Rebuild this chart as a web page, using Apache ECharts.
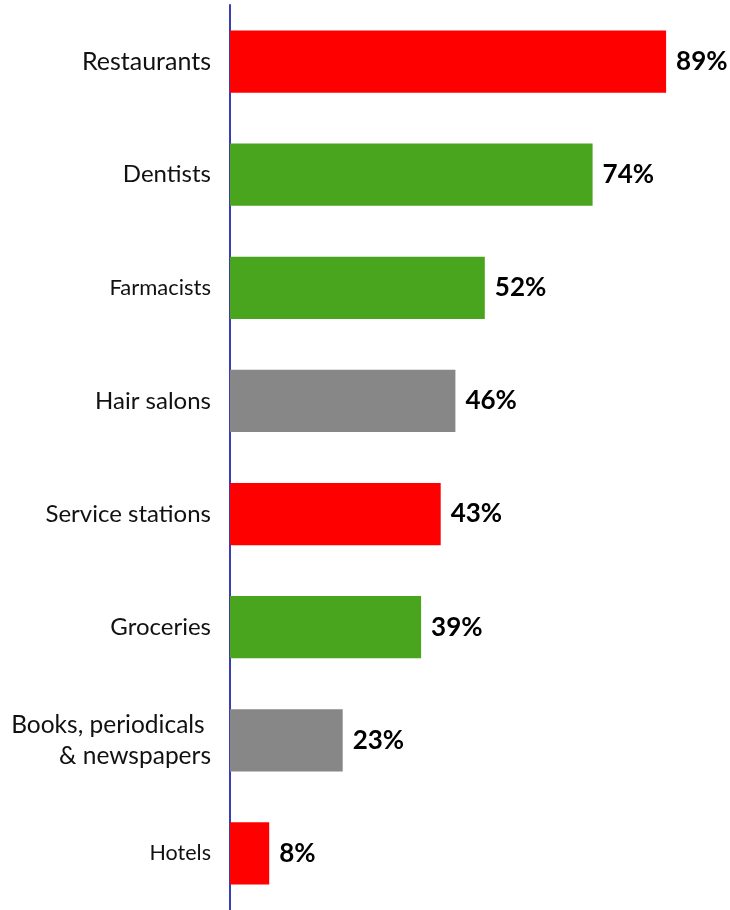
<!DOCTYPE html>
<html>
<head>
<meta charset="utf-8">
<script src="https://cdn.jsdelivr.net/npm/echarts@6/dist/echarts.min.js"></script>
<style>
html,body{margin:0;padding:0;background:#fff;}
#chart{width:730px;height:910px;}
</style>
</head>
<body>
<div id="chart"></div>
<script>
const categories = ['Restaurants', 'Dentists', 'Farmacists', 'Hair salons', 'Service stations', 'Groceries', 'Books, periodicals \n& newspapers', 'Hotels'];
const values = [89, 74, 52, 46, 43, 39, 23, 8];
const barColors = ['#ff0000', '#4aa51e', '#4aa51e', '#878787', '#ff0000', '#4aa51e', '#878787', '#ff0000'];
const labelSizes = [25, 24, 22, 24, 24, 24, 24.5, 21.5];
const labelTopPad = [2, 2, 2, 2, 2, 2, 14, 2];

const chart = echarts.init(document.getElementById('chart'));
chart.setOption({
  animation: false,
  grid: { left: 230, right: 10, top: 5, height: 910, containLabel: false },
  xAxis: { type: 'value', min: 0, max: 100, show: false },
  yAxis: {
    type: 'category',
    inverse: true,
    data: categories.map((c, i) => ({ value: c, textStyle: { fontSize: labelSizes[i], padding: [labelTopPad[i], 0, 0, 0] } })),
    axisLine: { show: true, lineStyle: { color: '#3c3cb4', width: 2 } },
    axisTick: { show: false },
    axisLabel: { margin: 19, color: '#111', fontFamily: 'Lato', lineHeight: 31, align: 'right' }
  },
  series: [{
    type: 'bar',
    data: values.map((v, i) => ({ value: v, itemStyle: { color: barColors[i] } })),
    barWidth: '55%',
    label: {
      show: true, position: 'right', distance: 10,
      formatter: '{c}%', fontFamily: 'Lato', fontWeight: 'bold', fontSize: 26, color: '#000'
    }
  }]
});
</script>
</body>
</html>
